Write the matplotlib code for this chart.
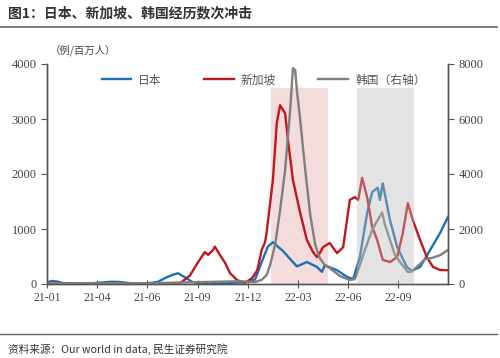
import matplotlib.pyplot as plt
import matplotlib.dates as mdates
import pandas as pd
import numpy as np

plt.rcParams['font.family'] = ['Liberation Serif', 'Noto Sans CJK SC']

# 日本 (例/百万人)
japan_dates = ['2021-01-01', '2021-01-10', '2021-01-19', '2021-02-02', '2021-03-10', '2021-04-06',
               '2021-04-24', '2021-05-08', '2021-05-30', '2021-06-26', '2021-07-19', '2021-08-01',
               '2021-08-15', '2021-08-24', '2021-09-04', '2021-09-18', '2021-10-02', '2021-11-25',
               '2021-12-22', '2022-01-09', '2022-01-21', '2022-02-01', '2022-02-10', '2022-02-28',
               '2022-03-25', '2022-04-12', '2022-04-30', '2022-05-09', '2022-05-14', '2022-06-05',
               '2022-06-23', '2022-07-04', '2022-07-16', '2022-07-29', '2022-08-07', '2022-08-17',
               '2022-08-21', '2022-08-26', '2022-09-08', '2022-09-21', '2022-10-08', '2022-10-17',
               '2022-11-01', '2022-11-19', '2022-12-07', '2022-12-21']
japan_vals = [30, 55, 45, 10, 5, 25, 40, 40, 15, 5, 40, 110, 170, 195, 130, 40, 10, 20,
              30, 80, 400, 680, 760, 600, 320, 400, 310, 220, 340, 250, 130, 90, 490, 1290,
              1670, 1750, 1530, 1830, 1160, 670, 310, 240, 310, 620, 930, 1220]

# 新加坡 (例/百万人)
sg_dates = ['2021-01-01', '2021-08-27', '2021-09-14', '2021-09-29', '2021-10-11', '2021-10-17',
            '2021-10-26', '2021-10-29', '2021-11-07', '2021-11-16', '2021-11-25', '2021-12-08',
            '2021-12-22', '2022-01-04', '2022-01-13', '2022-01-21', '2022-01-27', '2022-01-30',
            '2022-02-10', '2022-02-17', '2022-02-23', '2022-03-04', '2022-03-09', '2022-03-18',
            '2022-03-31', '2022-04-12', '2022-04-23', '2022-04-30', '2022-05-05', '2022-05-11',
            '2022-05-23', '2022-06-05', '2022-06-16', '2022-06-28', '2022-07-07', '2022-07-13',
            '2022-07-20', '2022-07-29', '2022-08-07', '2022-08-16', '2022-08-26', '2022-09-08',
            '2022-09-21', '2022-10-01', '2022-10-10', '2022-10-19', '2022-11-01', '2022-11-13',
            '2022-11-24', '2022-12-07', '2022-12-21']
sg_vals = [5, 10, 150, 400, 580, 530, 620, 680, 530, 390, 200, 70, 20, 110, 250, 620, 760, 950,
           1890, 2930, 3250, 3100, 2620, 1890, 1290, 800, 580, 490, 560, 670, 745, 560, 670,
           1530, 1580, 1530, 1930, 1580, 1040, 800, 440, 400, 490, 930, 1470, 1160, 800, 490,
           310, 255, 250]

# 韩国 (右轴)
kr_dates = ['2021-01-01', '2021-07-01', '2021-12-13', '2022-01-09', '2022-01-21', '2022-01-30',
            '2022-02-05', '2022-02-14', '2022-02-23', '2022-03-04', '2022-03-13', '2022-03-18',
            '2022-03-22', '2022-03-25', '2022-03-31', '2022-04-09', '2022-04-18', '2022-04-27',
            '2022-05-05', '2022-05-14', '2022-05-23', '2022-06-10', '2022-06-28', '2022-07-07',
            '2022-07-16', '2022-07-25', '2022-08-07', '2022-08-17', '2022-08-25', '2022-08-30',
            '2022-09-08', '2022-09-17', '2022-09-26', '2022-10-10', '2022-10-17', '2022-11-01',
            '2022-11-10', '2022-11-22', '2022-12-07', '2022-12-21']
kr_vals = [20, 30, 100, 70, 150, 330, 690, 1420, 2690, 4150, 6330, 7850, 7780, 7050, 5960,
           4150, 2510, 1420, 945, 690, 580, 290, 145, 180, 690, 1240, 1960, 2330, 2600, 2150,
           1600, 1050, 800, 435, 450, 730, 910, 945, 1050, 1240]

shade_pink = ('2022-02-06', '2022-05-19')
shade_gray = ('2022-07-10', '2022-10-21')

c_blue = '#1f6fb2'
c_red = '#c0161e'
c_gray = '#7f7f7f'

fig = plt.figure(figsize=(5.0, 3.58), dpi=100)
ax = fig.add_axes([47 / 500, 1 - 284 / 358, 401 / 500, 220 / 358])
ax2 = ax.twinx()

ax.axvspan(pd.Timestamp(shade_pink[0]), pd.Timestamp(shade_pink[1]), ymax=3560 / 4000,
           color='#f5dcdc', lw=0, zorder=0)
l1, = ax.plot(pd.to_datetime(japan_dates), japan_vals, color=c_blue, lw=1.7, label='日本')
l2, = ax.plot(pd.to_datetime(sg_dates), sg_vals, color=c_red, lw=1.7, label='新加坡')
l3, = ax2.plot(pd.to_datetime(kr_dates), kr_vals, color=c_gray, lw=1.7, label='韩国（右轴）')
ax2.axvspan(pd.Timestamp(shade_gray[0]), pd.Timestamp(shade_gray[1]), ymax=3560 / 4000,
            color='#b9b9b9', alpha=0.4, lw=0, zorder=5)

ax.set_ylim(0, 4000)
ax2.set_ylim(0, 8000)
ax.set_yticks(np.arange(0, 4001, 1000))
ax2.set_yticks(np.arange(0, 8001, 2000))
start = pd.Timestamp('2021-01-01')
end = pd.Timestamp('2022-12-21')
ax.set_xlim(start, end)
ticks = [start + pd.Timedelta(days=90 * i) for i in range(8)]
ax.set_xticks(ticks)
ax.xaxis.set_major_formatter(mdates.DateFormatter('%y-%m'))

for a in (ax, ax2):
    a.spines['top'].set_visible(False)
    for s in ('left', 'right', 'bottom'):
        a.spines[s].set_color('#555555')
        a.spines[s].set_linewidth(1.0)
    a.tick_params(axis='y', labelsize=9, colors='#555555', length=4, labelcolor='#444444')
ax.tick_params(axis='x', labelsize=8.5, colors='#555555', direction='inout', length=6,
               labelcolor='#444444', pad=3)

leg = ax.legend(handles=[l1, l2, l3], ncol=3, loc='center', bbox_to_anchor=(0.54, 0.927),
                frameon=False, handlelength=2.5, columnspacing=3.6,
                handletextpad=0.6, prop={'family': ['Noto Sans CJK SC'], 'size': 8.5})
for t in leg.get_texts():
    t.set_color('#555555')

fig.text(50 / 500, 1 - 50 / 358, '（例/百万人）', fontsize=7.5, color='#444444',
         family=['Noto Sans CJK SC'], va='center')

fig.text(8 / 500, 1 - 13 / 358, '图1：日本、新加坡、韩国经历数次冲击', fontsize=10,
         fontweight='bold', color='#333333', family=['Noto Sans CJK SC'], va='center')
fig.add_artist(plt.Line2D([0, 497 / 500], [1 - 27 / 358, 1 - 27 / 358], color='#666666', lw=1.2))
fig.add_artist(plt.Line2D([0, 497 / 500], [1 - 334 / 358, 1 - 334 / 358], color='#666666', lw=1.0))
fig.text(8 / 500, 1 - 349 / 358, '资料来源：Our world in data, 民生证券研究院', fontsize=7.7,
         color='#333333', family=['Noto Sans CJK SC', 'DejaVu Sans'], va='center')

fig.savefig('out.png', dpi=100)
